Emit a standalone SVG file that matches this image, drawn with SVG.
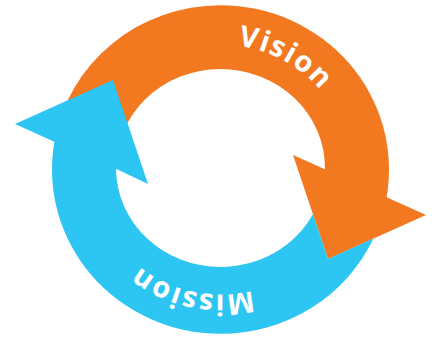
<svg xmlns="http://www.w3.org/2000/svg" xmlns:xlink="http://www.w3.org/1999/xlink" width="432" height="338" viewBox="0 0 432 338">
  <style>
    .vision { fill: #F37921; }
    .mission { fill: #2DC5F2; }
    .label { fill: #FFFFFF; font-family: "Open Sans", "DejaVu Sans", sans-serif; font-weight: bold; font-size: 29px; letter-spacing: 1.5px; }
  </style>
  <defs>
    <!-- baselines for the curved labels, both running clockwise -->
    <path id="arc-top" d="M 91.5 169.5 A 129 125 0 0 1 349.5 169.5"/>
    <path id="arc-bottom" d="M 349.5 169.5 A 129 125 0 0 1 91.5 169.5"/>
  </defs>
  <rect width="432" height="338" fill="#FFFFFF"/>

  <!-- orange arrow: left side, over the top, head at lower right -->
  <g id="vision">
    <path class="vision" d="M 54.4 141.8 A 168.5 164.3 0 0 1 220.5 5.2 A 168.5 164.3 0 0 1 386.6 197.2 L 426 215 L 328 259 L 293 155 L 325 169.3 A 104.5 99 0 0 0 220.5 69 A 104.5 99 0 0 0 116 168.8 Z"/>
    <text class="label"><textPath xlink:href="#arc-top" href="#arc-top" startOffset="66.5%" text-anchor="middle">Vision</textPath></text>
  </g>

  <!-- blue arrow: right side, under the bottom, head at upper left -->
  <g id="mission">
    <path class="mission" d="M 373.4 238.6 A 168.5 164.3 0 0 1 220.5 333.8 A 168.5 164.3 0 0 1 54.4 141.8 L 15 124 L 113 80 L 148 184 L 116 168.8 A 104.5 99 0 0 0 220.5 267 A 104.5 99 0 0 0 312.9 214.2 L 328 259 Z"/>
    <text class="label"><textPath xlink:href="#arc-bottom" href="#arc-bottom" startOffset="57%" text-anchor="middle">Mission</textPath></text>
  </g>
</svg>
